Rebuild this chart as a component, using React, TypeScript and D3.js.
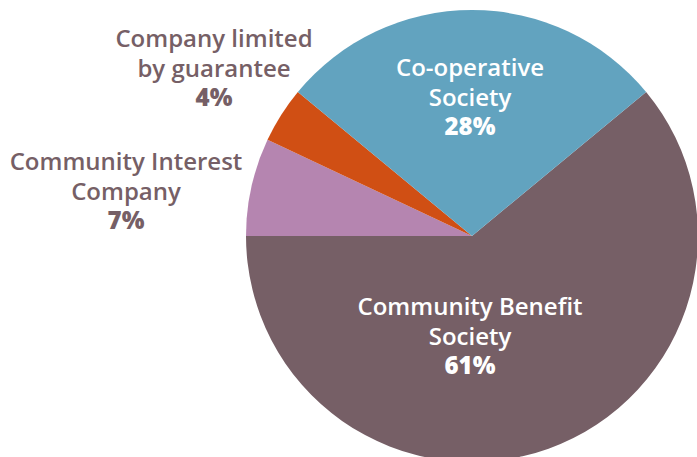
import React from "react";
import * as d3 from "d3";

const categories = ["Community Benefit Society", "Community Interest Company", "Company limited by guarantee", "Co-operative Society"];
const values = [61, 7, 4, 28];
const colors = ["#765F66", "#B585B0", "#D04F14", "#62A3BF"];
const labelLines = [
  ["Community Benefit", "Society"],
  ["Community Interest", "Company"],
  ["Company limited", "by guarantee"],
  ["Co-operative", "Society"],
];
const labelColors = ["#FFFFFF", "#765F66", "#765F66", "#FFFFFF"];

const W = 697, H = 457;
const cx = 472, cy = 236, R = 226;
// label anchor positions (first-line baseline)
const labelPos = [
  [470, 315],
  [126, 170],
  [214, 47],
  [470, 76],
];

export default function App() {
  const startDeg = 50.4;
  const pie = d3.pie<number>().sort(null).value((d) => d)
    .startAngle((startDeg * Math.PI) / 180)
    .endAngle((startDeg * Math.PI) / 180 + 2 * Math.PI);
  const arcs = pie(values);
  const arc = d3.arc<d3.PieArcDatum<number>>().innerRadius(0).outerRadius(R);
  const font = "'Open Sans', sans-serif";
  return (
    <svg width={W} height={H} style={{ position: "absolute", left: 0, top: 0, background: "#fff" }}>
      <g transform={`translate(${cx},${cy})`}>
        {arcs.map((a, i) => (
          <path key={i} d={arc(a) || ""} fill={colors[i]} />
        ))}
      </g>
      {categories.map((c, i) => {
        const [x, y] = labelPos[i];
        return (
          <text key={c} x={x} y={y} textAnchor="middle" fill={labelColors[i]} fontFamily={font} fontSize={24} fontWeight={600}>
            <tspan x={x} dy={0}>{labelLines[i][0]}</tspan>
            <tspan x={x} dy={29.5}>{labelLines[i][1]}</tspan>
            <tspan x={x} dy={29} fontWeight={800}>{values[i]}%</tspan>
          </text>
        );
      })}
    </svg>
  );
}
